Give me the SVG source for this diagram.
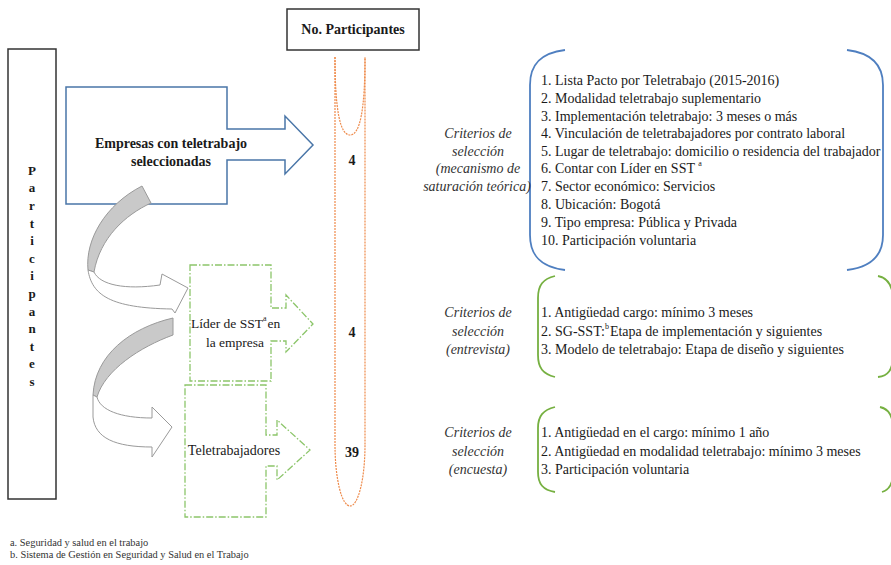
<svg xmlns="http://www.w3.org/2000/svg" width="891" height="565" viewBox="0 0 891 565">
<style>
text{font-family:'Liberation Serif','Times New Roman',serif;fill:#1a1a1a}
.b{font-weight:bold;font-size:14px}
.t{font-size:14px}
.lab{font-size:14px;font-style:italic;fill:#333;text-anchor:middle}
.c{text-anchor:middle}
.green{fill:#fff;stroke:#8cc56a;stroke-width:1.3;stroke-dasharray:7 2 1.5 2}
.gbr{fill:none;stroke:#76b041;stroke-width:1.8}
.bbr{fill:none;stroke:#4f7fc0;stroke-width:1.8}
.gray{fill:#c9c9c9;stroke:#9a9a9a;stroke-width:1}
.white{fill:#fff;stroke:#9a9a9a;stroke-width:1}
.fn{font-size:10.4px;fill:#333}
</style>
<rect width="891" height="565" fill="#fff"/>

<g id="participantes">
<rect x="8" y="49" width="48" height="450" fill="#fff" stroke="#333" stroke-width="1.5"/>
<g class="b c" style="font-size:13px">
<text x="32" y="175">P</text><text x="32" y="192">a</text><text x="32" y="210">r</text><text x="32" y="228">t</text><text x="32" y="245">i</text><text x="32" y="263">c</text><text x="32" y="280">i</text><text x="32" y="298">p</text><text x="32" y="316">a</text><text x="32" y="333">n</text><text x="32" y="351">t</text><text x="32" y="368">e</text><text x="32" y="386">s</text>
</g>
</g>

<g id="no-participantes">
<rect x="287" y="9" width="132" height="41" fill="#fff" stroke="#333" stroke-width="1.5"/>
<text class="b c" x="353" y="34">No. Participantes</text>
</g>

<g id="tubo">
<path d="M335,57 L335,445 A15,61 0 0 0 365,445 L365,57" fill="none" stroke="#ee8a4a" stroke-width="1.2" stroke-dasharray="2 1"/>
<path d="M335,57 C335,110 340,135 350,135 C360,135 365,110 365,57" fill="none" stroke="#ee8a4a" stroke-width="1.2" stroke-dasharray="2 1"/>
<text class="b c" x="352" y="165">4</text>
<text class="b c" x="352" y="337">4</text>
<text class="b c" x="352" y="457">39</text>
</g>

<g id="empresas">
<path d="M66,87 L227,87 L227,129 L285,129 L285,116 L313,145 L285,174 L285,160 L227,160 L227,204 L66,204 Z" fill="#fff" stroke="#4a76a8" stroke-width="1.5"/>
<text class="b c" x="171" y="148">Empresas con teletrabajo</text>
<text class="b c" x="171" y="166">seleccionadas</text>
</g>

<g id="lider">
<path class="green" d="M190,265 L271,265 L271,308 L286,308 L286,295 L313,324 L286,352 L286,341 L271,341 L271,381 L190,381 Z"/>
<text x="191" y="328" style="font-size:13.5px">Líder de SST<tspan font-size="8" dy="-7">a</tspan><tspan dy="7" dx="1">en</tspan></text>
<text class="c" x="235" y="347" style="font-size:13.5px">la empresa</text>
</g>

<g id="teletrabajadores">
<path class="green" d="M185,385 L266,385 L266,435 L277,435 L277,420 L310,450 L277,480 L277,466 L266,466 L266,517 L185,517 Z"/>
<text class="c" x="234" y="455" style="font-size:14px">Teletrabajadores</text>
</g>

<g id="connectors">
<path class="gray" d="M142,186 L151,203 C125,215 100,238 94,272 L88,270 C85,240 105,205 142,186 Z"/>
<path class="white" d="M88,270 C92,295 110,308 172,309 L175,313 L188,288 L162,274 L160,285 C125,290 100,285 94,272 Z"/>
<path class="gray" d="M173,318 L173,335 C140,347 105,370 97,397 L93,395 C95,355 130,328 173,318 Z"/>
<path class="white" d="M93,395 L93,417 C95,438 115,447 152,447 L152,457 L172,427 L152,407 L152,418 C120,418 100,410 97,397 Z"/>
</g>

<g id="criterios-empresas">
<path class="bbr" d="M565,50 C540,53 530,65 530,85 L530,235 C530,255 540,267 565,270"/>
<path class="bbr" d="M847,50 C872,53 883,65 883,85 L883,235 C883,255 872,267 847,270"/>
<text class="lab" x="478" y="138">Criterios de</text>
<text class="lab" x="478" y="156">selección</text>
<text class="lab" x="478" y="173">(mecanismo de</text>
<text class="lab" x="477" y="191">saturación teórica)</text>
<g class="t">
<text x="541" y="85">1. Lista Pacto por Teletrabajo (2015-2016)</text>
<text x="541" y="103">2. Modalidad teletrabajo suplementario</text>
<text x="541" y="121">3. Implementación teletrabajo: 3 meses o más</text>
<text x="541" y="138">4. Vinculación de teletrabajadores por contrato laboral</text>
<text x="541" y="156">5. Lugar de teletrabajo: domicilio o residencia del trabajador</text>
<text x="541" y="173">6. Contar con Líder en SST <tspan font-size="8" dy="-7">a</tspan></text>
<text x="541" y="191">7. Sector económico: Servicios</text>
<text x="541" y="209">8. Ubicación: Bogotá</text>
<text x="541" y="227">9. Tipo empresa: Pública y Privada</text>
<text x="541" y="245">10. Participación voluntaria</text>
</g>
</g>

<g id="criterios-entrevista">
<path class="gbr" d="M555,276 C543,279 538,285 538,298 L538,355 C538,368 543,374 555,377"/>
<path class="gbr" d="M878,276 C888,278 893,285 893,300 L893,355 C893,370 888,376 878,377"/>
<text class="lab" x="478" y="317">Criterios de</text>
<text class="lab" x="478" y="336">selección</text>
<text class="lab" x="478" y="354">(entrevista)</text>
<g class="t">
<text x="541" y="317">1. Antigüedad cargo: mínimo 3 meses</text>
<text x="541" y="336">2. SG-SST:<tspan font-size="8" dy="-7">b</tspan><tspan dy="7" dx="1">Etapa de implementación y siguientes</tspan></text>
<text x="541" y="354">3. Modelo de teletrabajo: Etapa de diseño y siguientes</text>
</g>
</g>

<g id="criterios-encuesta">
<path class="gbr" d="M555,407 C543,410 538,416 538,428 L538,472 C538,484 543,490 555,492"/>
<path class="gbr" d="M880,407 C889,409 893,416 893,428 L893,472 C893,484 889,490 882,492"/>
<text class="lab" x="478" y="437">Criterios de</text>
<text class="lab" x="478" y="456">selección</text>
<text class="lab" x="478" y="474">(encuesta)</text>
<g class="t">
<text x="541" y="437">1. Antigüedad en el cargo: mínimo 1 año</text>
<text x="541" y="456">2. Antigüedad en modalidad teletrabajo: mínimo 3 meses</text>
<text x="541" y="474">3. Participación voluntaria</text>
</g>
</g>

<g id="notas">
<text class="fn" x="10" y="546">a. Seguridad y salud en el trabajo</text>
<text class="fn" x="10" y="558">b. Sistema de Gestión en Seguridad y Salud en el Trabajo</text>
</g>
</svg>
